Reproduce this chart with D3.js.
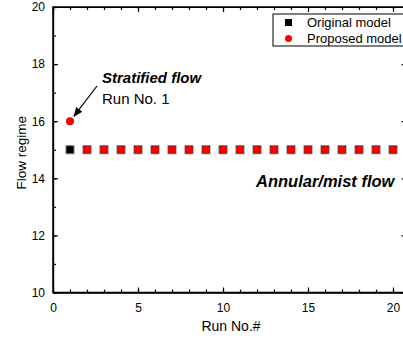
<!DOCTYPE html>
<html>
<head>
<meta charset="utf-8">
<script src="https://cdn.jsdelivr.net/npm/d3@7"></script>
<style>
  body { margin: 0; background: #fff; }
  svg text { font-family: "Liberation Sans", Arial, sans-serif; fill: #000; }
  .axis path, .axis line { stroke: #000; stroke-width: 1.2; }
</style>
</head>
<body>
<div id="chart"></div>
<script>
const runs = d3.range(1, 21);
const originalModel = [15, 15, 15, 15, 15, 15, 15, 15, 15, 15, 15, 15, 15, 15, 15, 15, 15, 15, 15, 15];
const proposedModel = [16, 15, 15, 15, 15, 15, 15, 15, 15, 15, 15, 15, 15, 15, 15, 15, 15, 15, 15, 15];
const xTicks = [0, 5, 10, 15, 20];
const yTicks = [10, 12, 14, 16, 18, 20];

const width = 403, height = 338;
const svg = d3.select('#chart').append('svg')
  .attr('width', width).attr('height', height);

const x = d3.scaleLinear().domain([0, 20.8]).range([53, 406.6]);
const y = d3.scaleLinear().domain([10, 20]).range([292.5, 7]);

const minorX = d3.range(0, 21);
const minorY = d3.range(10, 21);

// bottom axis
svg.append('g').attr('class', 'axis')
  .attr('transform', 'translate(0,' + y(10) + ')')
  .call(d3.axisBottom(x).tickValues(minorX).tickSizeInner(-3).tickSizeOuter(0).tickFormat(''));
svg.append('g').attr('class', 'axis')
  .attr('transform', 'translate(0,' + y(10) + ')')
  .call(d3.axisBottom(x).tickValues(xTicks).tickSizeInner(-5).tickSizeOuter(0).tickPadding(11))
  .call(g => g.selectAll('text').attr('font-size', 12));

// top axis
svg.append('g').attr('class', 'axis')
  .attr('transform', 'translate(0,' + y(20) + ')')
  .call(d3.axisTop(x).tickValues(minorX).tickSizeInner(-3).tickSizeOuter(0).tickFormat(''));
svg.append('g').attr('class', 'axis')
  .attr('transform', 'translate(0,' + y(20) + ')')
  .call(d3.axisTop(x).tickValues(xTicks).tickSizeInner(-5).tickSizeOuter(0).tickFormat(''));

// left axis
svg.append('g').attr('class', 'axis')
  .attr('transform', 'translate(' + x(0) + ',0)')
  .call(d3.axisLeft(y).tickValues(minorY).tickSizeInner(-3).tickSizeOuter(0).tickFormat(''));
svg.append('g').attr('class', 'axis')
  .attr('transform', 'translate(' + x(0) + ',0)')
  .call(d3.axisLeft(y).tickValues(yTicks).tickSizeInner(-5).tickSizeOuter(0).tickPadding(8))
  .call(g => g.selectAll('text').attr('font-size', 12));

// right axis
svg.append('g').attr('class', 'axis')
  .attr('transform', 'translate(' + x(20.8) + ',0)')
  .call(d3.axisRight(y).tickValues(yTicks).tickSizeInner(-5).tickSizeOuter(0).tickFormat(''));

// plot frame
svg.append('path')
  .attr('d', 'M' + x(0) + ',' + y(10) + 'H' + x(20.8) + 'V' + y(20) + 'H' + x(0) + 'Z')
  .attr('fill', 'none').attr('stroke', '#000').attr('stroke-width', 1.5);

// axis titles
svg.append('text')
  .attr('x', 231).attr('y', 331)
  .attr('text-anchor', 'middle').attr('font-size', 14)
  .text('Run No.#');
svg.append('text')
  .attr('transform', 'translate(26,' + (y(15) + 3) + ') rotate(-90)')
  .attr('text-anchor', 'middle').attr('font-size', 13.5)
  .text('Flow regime');

// series
const sq = 8;
svg.append('g').selectAll('rect')
  .data(runs)
  .join('rect')
  .attr('x', (d, i) => x(d) - sq / 2)
  .attr('y', (d, i) => y(originalModel[i]) - sq / 2)
  .attr('width', sq).attr('height', sq)
  .attr('fill', '#000').attr('stroke', '#777').attr('stroke-width', 1);

svg.append('g').selectAll('circle')
  .data(runs)
  .join('circle')
  .attr('cx', d => x(d))
  .attr('cy', (d, i) => y(proposedModel[i]))
  .attr('r', 4)
  .attr('fill', '#ff0000');

// annotations
svg.append('defs').append('marker')
  .attr('id', 'arrow').attr('viewBox', '0 0 10 10')
  .attr('refX', 9).attr('refY', 5)
  .attr('markerWidth', 8).attr('markerHeight', 8)
  .attr('orient', 'auto')
  .append('path').attr('d', 'M0,1 L10,5 L0,9 z').attr('fill', '#000');

svg.append('line')
  .attr('x1', 97).attr('y1', 86)
  .attr('x2', x(1) + 4).attr('y2', y(16) - 5)
  .attr('stroke', '#000').attr('stroke-width', 1.2)
  .attr('marker-end', 'url(#arrow)');

svg.append('text')
  .attr('x', 102).attr('y', 83)
  .attr('font-size', 15).attr('font-weight', 'bold').attr('font-style', 'italic')
  .text('Stratified flow');
svg.append('text')
  .attr('x', 102).attr('y', 104)
  .attr('font-size', 15)
  .text('Run No. 1');
svg.append('text')
  .attr('x', 256).attr('y', 187)
  .attr('font-size', 16.5).attr('font-weight', 'bold').attr('font-style', 'italic')
  .text('Annular/mist flow');

// legend
const legend = svg.append('g');
legend.append('rect')
  .attr('x', 273).attr('y', 14).attr('width', 160).attr('height', 32)
  .attr('fill', '#fff').attr('stroke', '#000').attr('stroke-width', 1);
legend.append('rect')
  .attr('x', 285).attr('y', 19).attr('width', 7).attr('height', 7)
  .attr('fill', '#000');
legend.append('circle')
  .attr('cx', 288.5).attr('cy', 38.5).attr('r', 3.5)
  .attr('fill', '#ff0000');
legend.append('text')
  .attr('x', 307).attr('y', 26.5).attr('font-size', 13)
  .text('Original model');
legend.append('text')
  .attr('x', 307).attr('y', 42.5).attr('font-size', 13)
  .text('Proposed model');
</script>
</body>
</html>
